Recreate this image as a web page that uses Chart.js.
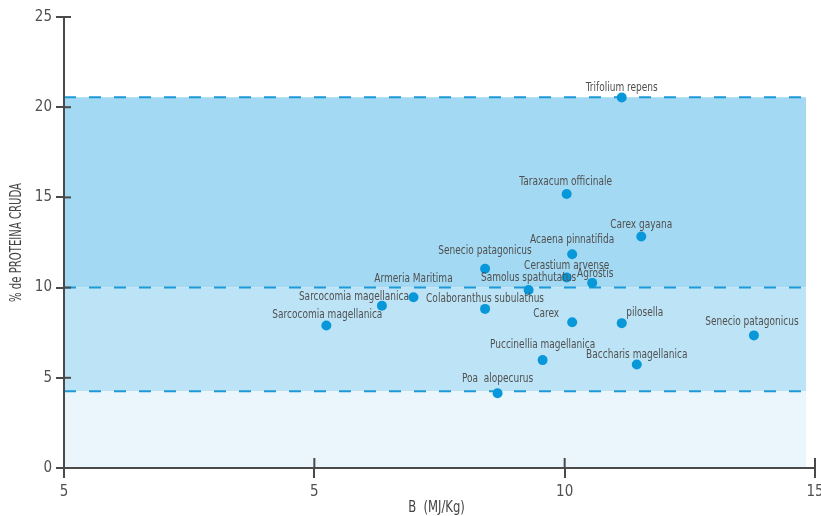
<!DOCTYPE html>
<html>
<head>
<meta charset="utf-8">
<script src="https://cdn.jsdelivr.net/npm/chart.js@4"></script>
<style>
  html, body { margin: 0; padding: 0; background: #fff; }
  #wrap { width: 821px; height: 516px; }
</style>
</head>
<body>
<div id="wrap"><canvas id="chart"></canvas></div>
<script>
// Species and their values
const species = [
    'Trifolium repens', 'Taraxacum officinale', 'Carex gayana', 'Acaena pinnatifida',
    'Senecio patagonicus', 'Cerastium arvense', 'Agrostis', 'Samolus spathutatus',
    'Colaboranthus subulathus', 'Armeria Maritima', 'Sarcocomia magellanica',
    'Sarcocomia magellanica', 'Puccinellia magellanica', 'Poa  alopecurus', 'Carex',
    'pilosella', 'Senecio patagonicus', 'Baccharis magellanica'
];
const energyValues = [11.14, 10.04, 11.53, 10.15, 8.41, 10.04, 10.55, 9.28, 8.41, 6.98, 6.35, 5.24, 9.56, 8.66, 10.15, 11.14, 13.78, 11.44];
const proteinValues = [20.54, 15.19, 12.83, 11.85, 11.04, 10.56, 10.26, 9.87, 8.82, 9.47, 8.99, 7.90, 5.98, 4.14, 8.08, 8.03, 7.35, 5.74];

// Label placement relative to each point (px)
const labelOffsets = [
    [0, -10], [-1, -12], [0, -12], [0, -15], [0, -18], [0, -12], [3, -9], [0, -12],
    [0, -10], [0, -19], [-28, -9], [1, -11], [0, -15], [0, -15], [-26, -9], [23, -11],
    [-2, -14], [0, -10]
];

// Reference bands
const bandLevels = [4.25, 10, 20.55];
const bandEndX = 14.82;

// Axis tick labels
const xTickValues = [0, 5, 10, 15];
const xTickLabels = ['5', '5', '10', '15'];
const yTickValues = [0, 5, 10, 15, 20, 25];

const xTitle = 'B  (MJ/Kg)';
const yTitle = '% de PROTEINA CRUDA';

const FONT = "'DejaVu Sans Condensed', 'Liberation Sans Narrow', sans-serif";
const AXIS = '#4a4a4a';
const TEXT = '#505050';

const bandColors = ['#eaf5fc', '#bde4f6', '#a3d9f2'];

const bandDatasets = bandLevels.map((lvl, i) => ({
    type: 'line',
    data: [{ x: 0, y: lvl }, { x: bandEndX, y: lvl }],
    borderColor: '#1d9ad6',
    borderWidth: 2,
    borderDash: [12, 13],
    pointRadius: 0,
    showLine: true,
    fill: i === 0 ? 'origin' : { target: i },
    backgroundColor: bandColors[i],
    order: 2
}));

// draws condensed text (the original uses a narrow typeface)
function narrowText(ctx, text, x, y, squeeze, angle) {
    ctx.save();
    ctx.translate(x, y);
    if (angle) ctx.rotate(angle);
    ctx.scale(squeeze, 1);
    ctx.fillText(text, 0, 0);
    ctx.restore();
}

// Point labels and axis titles
const labelPlugin = {
    id: 'pointLabels',
    afterDatasetsDraw(chart) {
        const ctx = chart.ctx;
        const meta = chart.getDatasetMeta(0);
        ctx.save();
        ctx.font = '13px ' + FONT;
        ctx.fillStyle = TEXT;
        ctx.textAlign = 'center';
        ctx.textBaseline = 'middle';
        meta.data.forEach((pt, i) => {
            const [dx, dy] = labelOffsets[i];
            narrowText(ctx, species[i], pt.x + dx, pt.y + dy, 0.77);
        });

        const area = chart.chartArea;
        ctx.font = '15px ' + FONT;
        ctx.fillStyle = '#444';
        narrowText(ctx, xTitle, (area.left + area.right) / 2 - 3, 508, 0.86);
        narrowText(ctx, yTitle, 17, (area.top + area.bottom) / 2, 0.75, -Math.PI / 2);
        ctx.restore();
    }
};

// Axis lines and tick marks crossing the axes
const axesPlugin = {
    id: 'axesOverlay',
    afterDraw(chart) {
        const ctx = chart.ctx;
        const xs = chart.scales.x, ys = chart.scales.y;
        ctx.save();
        ctx.strokeStyle = AXIS;
        ctx.lineWidth = 2;
        ctx.beginPath();
        ctx.moveTo(xs.left, xs.top);
        ctx.lineTo(xs.right, xs.top);
        ctx.moveTo(ys.right, ys.top);
        ctx.lineTo(ys.right, ys.bottom);
        ctx.stroke();
        xs.ticks.forEach(t => {
            const px = xs.getPixelForValue(t.value);
            ctx.beginPath();
            ctx.moveTo(px, xs.top);
            ctx.lineTo(px, xs.top - 10);
            ctx.stroke();
        });
        ys.ticks.forEach(t => {
            const py = ys.getPixelForValue(t.value);
            ctx.beginPath();
            ctx.moveTo(ys.right, py);
            ctx.lineTo(ys.right + 7, py);
            ctx.stroke();
        });
        ctx.restore();
    }
};

const ctx = document.getElementById('chart').getContext('2d');
const chart = new Chart(ctx, {
    type: 'scatter',
    data: {
        datasets: [{
            data: energyValues.map((x, i) => ({ x: x, y: proteinValues[i] })),
            backgroundColor: '#0898da',
            borderWidth: 0,
            pointRadius: 5,
            order: 0
        }, ...bandDatasets]
    },
    options: {
        responsive: true,
        maintainAspectRatio: false,
        animation: false,
        layout: { padding: { left: 0, right: 6, top: 17, bottom: 0 } },
        plugins: {
            legend: { display: false },
            tooltip: { enabled: false },
            filler: { drawTime: 'beforeDraw' }
        },
        scales: {
            x: {
                type: 'linear',
                min: 0,
                max: 15,
                afterBuildTicks: s => { s.ticks = xTickValues.map(v => ({ value: v })); },
                afterFit: s => { s.height = 48; s.paddingLeft = 0; s.paddingRight = 0; },
                ticks: {
                    color: TEXT,
                    font: { family: FONT, size: 15 },
                    padding: 5,
                    maxRotation: 0,
                    callback: (v, i) => xTickLabels[i]
                },
                grid: { drawOnChartArea: false, color: AXIS, lineWidth: 2, tickLength: 10 },
                border: { color: AXIS, width: 2 }
            },
            y: {
                type: 'linear',
                min: 0,
                max: 25,
                afterBuildTicks: s => { s.ticks = yTickValues.map(v => ({ value: v })); },
                afterFit: s => { s.width = 64; s.paddingTop = 0; s.paddingBottom = 0; },
                ticks: {
                    color: TEXT,
                    font: { family: FONT, size: 15 },
                    padding: 4
                },
                grid: { drawOnChartArea: false, color: AXIS, lineWidth: 2, tickLength: 8 },
                border: { color: AXIS, width: 2 }
            }
        }
    },
    plugins: [labelPlugin, axesPlugin]
});
</script>
</body>
</html>
